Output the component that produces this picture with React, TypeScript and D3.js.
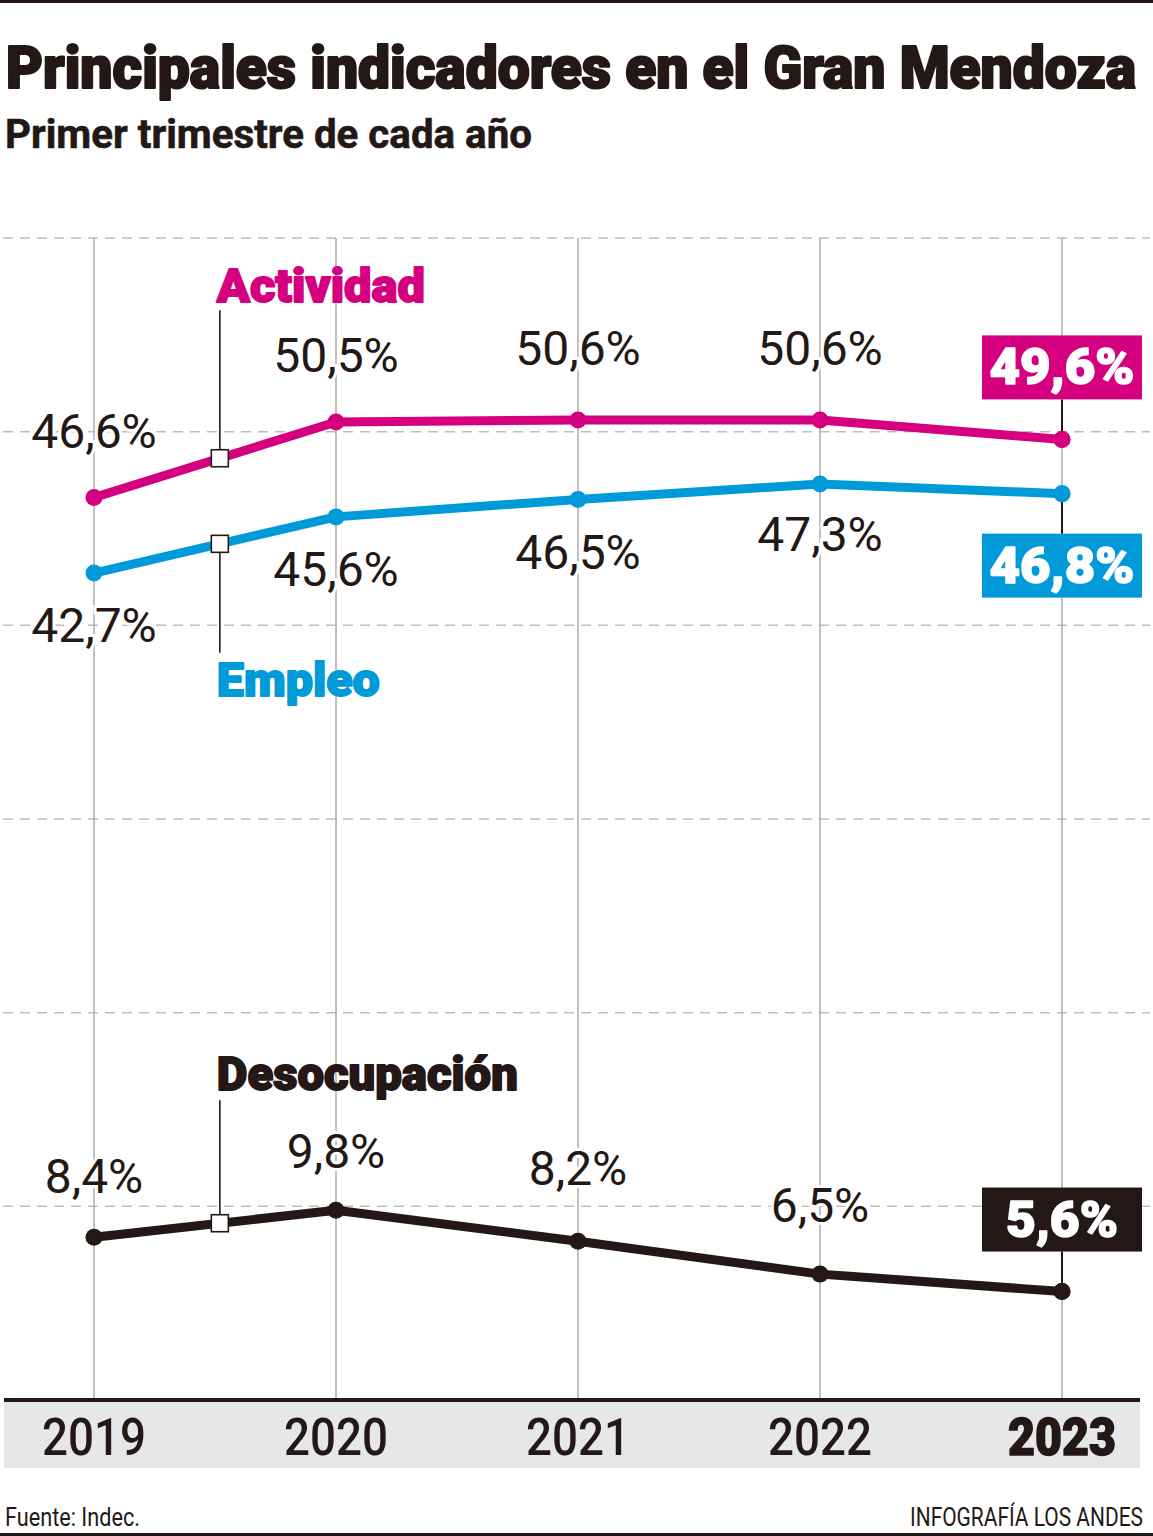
import React from "react";
import * as d3 from "d3";

const years = ["2019", "2020", "2021", "2022", "2023"];
const actividad = [46.6, 50.5, 50.6, 50.6, 49.6];
const empleo = [42.7, 45.6, 46.5, 47.3, 46.8];
const desocupacion = [8.4, 9.8, 8.2, 6.5, 5.6];
const gridValues = [10, 20, 30, 40, 50, 60];
const title = "Principales indicadores en el Gran Mendoza";
const subtitle = "Primer trimestre de cada año";
const source = "Fuente: Indec.";
const credit = "INFOGRAFÍA LOS ANDES";

const W = 1153;
const H = 1536;
const PINK = "#d5007f";
const BLUE = "#009ad9";
const BLACK = "#231815";
const FONT = "Roboto, 'Open Sans', sans-serif";

const fmt = (v: number) => v.toFixed(1).replace(".", ",") + "%";

type Series = {
  name: string;
  values: number[];
  color: string;
  labelDy: number[];
  nameSide: "above" | "below";
  nameGap: number;
  lineGap: number;
  nameLen: number;
  boxSide: "above" | "below";
};

// label offsets (layout only) per point, in px from the point
const series: Series[] = [
  { name: "Actividad", values: actividad, color: PINK, labelDy: [-50, -50, -55, -55], nameSide: "above", nameGap: 156, lineGap: 148, nameLen: 208, boxSide: "above" },
  { name: "Empleo", values: empleo, color: BLUE, labelDy: [69, 69, 70, 67], nameSide: "below", nameGap: 152, lineGap: 109, nameLen: 163, boxSide: "below" },
  { name: "Desocupación", values: desocupacion, color: BLACK, labelDy: [-44, -42, -56, -52], nameSide: "above", nameGap: 133, lineGap: 123, nameLen: 301, boxSide: "above" },
];

export default function App() {
  const x = d3.scaleLinear().domain([0, years.length - 1]).range([94, 1062]);
  const y = d3.scaleLinear().domain([0, 60]).range([1400, 238]);
  const line = d3
    .line<number>()
    .x((_, i) => x(i))
    .y((d) => y(d));

  const markerT = 0.52;
  const boxW = 160;
  const boxH = 64;
  const boxGap = 40;
  const last = years.length - 1;

  return (
    <svg
      width={W}
      height={H}
      viewBox={`0 0 ${W} ${H}`}
      style={{ position: "absolute", left: 0, top: 0, background: "#fff" }}
      fontFamily={FONT}
    >
      <rect x={0} y={0} width={W} height={H} fill="#fff" />
      {/* top & bottom rules */}
      <rect x={0} y={0} width={W} height={3} fill={BLACK} />
      <rect x={0} y={H - 3} width={W} height={3} fill={BLACK} />

      {/* title */}
      <text x={6} y={88} fontSize={59} fontWeight={900} fill={BLACK} stroke={BLACK} strokeWidth={2.2} strokeLinejoin="round" textLength={1130} lengthAdjust="spacingAndGlyphs">
        {title}
      </text>
      <text x={5} y={148} fontSize={41} fontWeight={700} fill={BLACK} stroke={BLACK} strokeWidth={0.6} textLength={527} lengthAdjust="spacingAndGlyphs">
        {subtitle}
      </text>

      {/* horizontal dashed grid */}
      {gridValues.map((g) => (
        <line key={g} x1={3} x2={1150} y1={y(g)} y2={y(g)} stroke="#bdbdbd" strokeWidth={1.5} strokeDasharray="10,7" />
      ))}
      {/* vertical grid */}
      {years.map((yr, i) => (
        <line key={yr} x1={x(i)} x2={x(i)} y1={y(60)} y2={y(0)} stroke="#ababab" strokeWidth={1.5} />
      ))}

      {/* x axis band */}
      <rect x={4} y={y(0)} width={1136} height={68} fill="#e6e7e9" />
      <line x1={4} x2={1140} y1={y(0)} y2={y(0)} stroke={BLACK} strokeWidth={4} />
      {years.map((yr, i) => (
        <text
          key={yr}
          x={x(i)}
          y={1455}
          textAnchor="middle"
          fontSize={52}
          fontWeight={i === last ? 900 : 500}
          fill={BLACK}
          stroke={i === last ? BLACK : "none"}
          strokeWidth={i === last ? 1.5 : 0}
          textLength={i === last ? 108 : 104}
          lengthAdjust="spacingAndGlyphs"
        >
          {yr}
        </text>
      ))}

      {/* series */}
      {series.map((s) => {
        const mx = x(markerT);
        const my = s.values[0] + (s.values[1] - s.values[0]) * markerT;
        const myPx = y(my);
        const nameY = s.nameSide === "above" ? myPx - s.nameGap : myPx + s.nameGap;
        const connEnd = s.nameSide === "above" ? myPx - s.lineGap : myPx + s.lineGap;
        const lx = x(last);
        const ly = y(s.values[last]);
        const boxY = s.boxSide === "above" ? ly - boxGap - boxH : ly + boxGap;
        const boxEdge = s.boxSide === "above" ? boxY + boxH : boxY;
        return (
          <g key={s.name}>
            <path d={line(s.values) || ""} fill="none" stroke={s.color} strokeWidth={9} strokeLinejoin="round" />
            {s.values.map((v, i) => (
              <circle key={i} cx={x(i)} cy={y(v)} r={8.5} fill={s.color} />
            ))}
            {/* value labels */}
            {s.values.slice(0, last).map((v, i) => (
              <text
                key={i}
                x={x(i)}
                y={y(v) + s.labelDy[i]}
                textAnchor="middle"
                fontSize={48}
                fontWeight={400}
                fill={BLACK}
                stroke="#fff"
                strokeWidth={6}
                paintOrder="stroke"
              >
                {fmt(v)}
              </text>
            ))}
            {/* callout name */}
            <line x1={mx} x2={mx} y1={connEnd} y2={myPx} stroke={BLACK} strokeWidth={1.6} />
            <rect x={mx - 8.5} y={myPx - 8.5} width={17} height={17} fill="#fff" stroke={BLACK} strokeWidth={1.6} />
            <text x={mx - 3} y={nameY} fontSize={46} fontWeight={900} fill={s.color} stroke={s.color} strokeWidth={1.8} strokeLinejoin="round" textLength={s.nameLen} lengthAdjust="spacingAndGlyphs">
              {s.name}
            </text>
            {/* last value box */}
            <line x1={lx} x2={lx} y1={boxEdge} y2={ly} stroke={BLACK} strokeWidth={2} />
            <circle cx={lx} cy={ly} r={8.5} fill={s.color} />
            <rect x={lx - boxW / 2} y={boxY} width={boxW} height={boxH} fill={s.color} />
            <text
              x={lx}
              y={boxY + boxH / 2 + 17}
              textAnchor="middle"
              fontSize={50}
              fontWeight={900}
              fill="#fff"
              stroke="#fff"
              strokeWidth={1.5}
              strokeLinejoin="round"
              textLength={s.values[last] < 10 ? 112 : 145}
              lengthAdjust="spacingAndGlyphs"
            >
              {fmt(s.values[last])}
            </text>
          </g>
        );
      })}

      {/* footer */}
      <text x={5} y={1526} fontSize={25} fontWeight={400} fill={BLACK} textLength={135} lengthAdjust="spacingAndGlyphs">
        {source}
      </text>
      <text x={1143} y={1526} textAnchor="end" fontSize={25} fontWeight={400} fill={BLACK} textLength={233} lengthAdjust="spacingAndGlyphs">
        {credit}
      </text>
    </svg>
  );
}
